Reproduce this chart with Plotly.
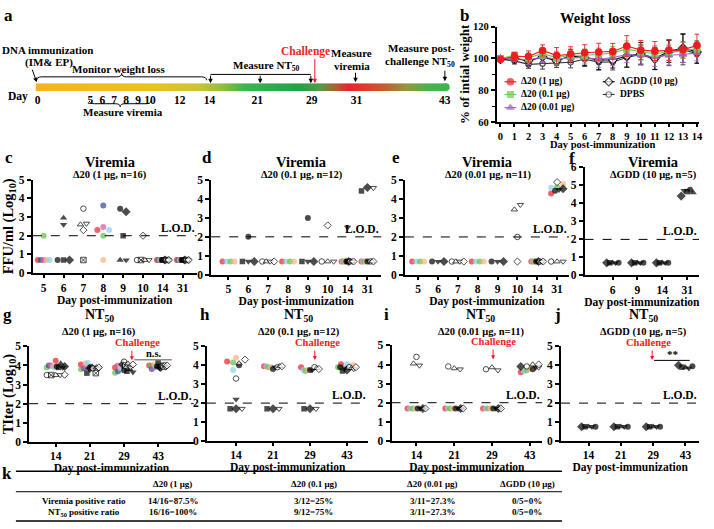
import numpy as np
import plotly.graph_objects as go

W, H = 714, 529
FONT = "Liberation Serif"
N = None

# ======================= DATA =======================
tl_days = [0, 5, 6, 7, 8, 9, 10, 12, 14, 21, 29, 31, 43]

wl_days = list(range(15))
wl_d20_1 = [99.5, 101.2, 101.2, 105.0, 101.8, 102.8, 103.6, 104.0, 104.4, 107.8, 105.2, 104.6, 105.2, 105.4, 108.2]
wl_d20_1_err = [1.0, 2.5, 3.5, 3.5, 5.0, 4.5, 5.0, 5.5, 5.0, 6.5, 6.0, 6.0, 6.5, 5.0, 7.0]
wl_d20_01 = [100.0, 102.0, 100.5, 103.0, 100.5, 102.0, 102.0, 102.5, 103.5, 106.0, 104.0, 103.0, 104.0, 105.0, 106.0]
wl_d20_01_err = [1.0, 2.0, 3.0, 3.0, 4.0, 4.0, 4.0, 4.0, 4.0, 5.0, 5.0, 5.0, 5.0, 5.0, 5.0]
wl_d20_001 = [100.0, 100.0, 99.0, 101.0, 99.5, 100.5, 100.5, 99.5, 100.5, 102.5, 102.0, 101.0, 102.0, 102.5, 103.5]
wl_d20_001_err = [1.0, 2.0, 3.0, 3.5, 4.0, 4.0, 4.0, 5.0, 5.0, 5.0, 6.0, 6.0, 6.0, 5.0, 5.0]
wl_gdd = [99.5, 100.0, 98.5, 101.0, 98.5, 101.5, 100.5, 99.0, 99.0, 101.5, 103.0, 100.0, 104.5, 106.5, 104.0]
wl_gdd_err = [1.0, 2.0, 3.0, 4.0, 3.0, 4.0, 5.0, 6.0, 5.0, 7.0, 7.0, 7.0, 7.0, 9.0, 7.0]
wl_dpbs = [99.5, 98.5, 96.3, 96.8, 97.3, 97.6, 99.5, 97.7, 97.8, 100.6, 102.5, 99.2, 103.5, 105.5, 103.0]
wl_dpbs_err = [1.0, 2.0, 2.5, 3.5, 3.0, 3.5, 4.5, 5.0, 5.0, 6.0, 6.0, 6.0, 8.0, 9.5, 6.0]

mice_16 = ["red", "green", "blue", "pink", "orange", "cyan",
           "b_circle", "b_square", "b_tup", "b_tdown", "b_diamond",
           "o_circle", "o_squarex", "o_tup", "o_tdown", "o_diamond"]
mice_12 = ["red", "cyan", "green", "orange",
           "b_circle", "b_square", "b_tdown", "b_diamond",
           "o_circle", "o_tup", "o_tdown", "o_diamond"]
mice_11 = ["red", "cyan", "green", "orange",
           "b_circle", "b_tdown", "b_diamond",
           "o_circle", "o_tup", "o_tdown", "o_diamond"]
mice_5 = ["b_diamond", "b_square", "b_tup", "b_tdown", "b_circle"]

vir_days = ["5", "6", "7", "8", "9", "10", "14", "31"]
vir_days_f = ["6", "9", "14", "31"]
vir_c = [
    [0.7, 2.0, 0.7, 0.7, 0.7, 0.7, N, N, N, N, N, N, N, N, N, N],
    [N, N, N, N, N, N, 0.7, 0.7, 2.95, 2.6, 0.7, N, N, N, N, N],
    [N, N, N, N, N, N, N, N, N, N, N, 3.45, 0.7, 2.6, 2.65, 2.3],
    [2.3, 2.0, 3.62, 2.47, 0.7, 2.3, N, N, N, N, N, N, N, N, N, N],
    [N, N, N, N, N, N, 3.45, 2.0, 0.7, 0.7, 3.28, N, N, N, N, N],
    [N, N, N, N, N, N, N, N, N, N, N, 0.7, 0.7, 0.7, 0.7, 2.0],
    [0.7, 0.7, 0.7, 0.7, 0.7, 0.7, 0.7, 0.7, 0.7, 0.7, 0.7, 0.7, 0.7, 0.7, 0.7, 0.7],
    [0.7, 0.7, 0.7, 0.7, 0.7, 0.7, 0.7, 0.7, 0.7, 0.7, 0.7, 0.7, 0.7, 0.7, 0.7, 0.7],
]
vir_d = [
    [0.7, 0.7, 0.7, 0.7, N, N, N, N, N, N, N, N],
    [N, N, N, N, 2.0, 0.7, 0.7, 0.7, N, N, N, N],
    [N, N, N, N, N, N, N, N, 0.7, 0.7, 0.7, 0.7],
    [0.7, 0.7, 0.7, 0.7, N, N, N, N, N, N, N, N],
    [N, N, N, N, 3.0, 0.7, 0.7, 0.7, N, N, N, N],
    [N, N, N, N, N, N, N, N, 0.7, 0.7, 0.7, 2.6],
    [0.7, 0.7, 0.7, 0.7, 0.7, 0.7, 2.5, 0.7, 0.7, 0.7, 0.7, 0.7],
    [0.7, 0.7, 0.7, 0.7, 0.7, 4.42, 0.7, 4.6, 0.7, 0.7, 4.58, 0.7],
]
vir_e = [
    [0.7, 0.7, 0.7, 0.7, N, N, N, N, N, N, N],
    [N, N, N, N, 0.7, 0.7, 0.7, N, N, N, N],
    [N, N, N, N, N, N, N, 0.7, 0.7, 0.7, 0.7],
    [0.7, 0.7, 0.7, 0.7, N, N, N, N, N, N, N],
    [N, N, N, N, 0.7, 0.7, 0.7, N, N, N, N],
    [N, N, N, N, N, N, N, 2.0, 3.45, 3.7, 0.7],
    [0.7, 0.7, 0.7, 0.7, 0.7, 0.7, 0.7, 0.7, 0.7, 0.7, 0.7],
    [4.3, 4.6, 4.65, 4.8, 4.45, 4.5, 4.55, 0.7, 0.7, 0.7, 4.9],
]
vir_f = [
    [0.7, 0.7, 0.7, 0.7, 0.7],
    [0.7, 0.7, 0.7, 0.7, 0.7],
    [0.7, 0.7, 0.7, 0.7, 0.7],
    [4.4, 4.65, 4.6, 4.7, 4.75],
]

nt_days = ["14", "21", "29", "43"]
nt_g = [
    [4.25, 3.9, 4.0, 4.0, 3.95, 3.9, 3.95, 3.9, 4.1, 3.9, 3.95, 3.5, 3.5, 3.5, 3.5, 3.52],
    [4.05, 3.8, 3.85, 3.95, 4.1, 4.15, 3.9, 3.6, 3.95, 3.9, 3.85, 3.85, 3.6, 3.9, 3.85, 3.9],
    [3.9, 3.62, 3.7, 4.0, 3.9, 3.85, 3.75, 3.7, 3.8, 3.65, 4.05, 4.2, 4.0, 4.1, 3.9, 4.05],
    [4.0, 4.0, 3.82, 3.9, 4.05, 3.95, 3.95, 4.15, 3.95, 3.85, 3.9, 4.0, 3.95, 4.05, 3.9, 4.0],
]
nt_h = [
    [4.2, 3.75, 4.15, 4.4, 4.0, 1.7, 2.2, 1.7, 3.3, 4.1, 1.7, 4.3],
    [3.95, 3.95, 3.9, 3.9, 3.8, 1.7, 3.9, 1.7, 3.9, 3.95, 1.7, 3.95],
    [3.9, 3.75, 3.7, 3.75, 3.75, 1.7, 3.75, 1.7, 3.9, 3.85, 1.7, 3.8],
    [4.05, 4.05, 3.9, 4.0, 3.9, 3.7, 3.85, 3.75, 3.9, 3.85, 3.8, 3.9],
]
nt_i = [
    [1.7, 1.7, 1.7, 1.7, 1.7, 1.7, 1.7, 4.4, 4.05, 3.95, 1.7],
    [1.7, 1.7, 1.7, 1.7, 1.7, 1.7, 1.7, 3.9, 3.8, 3.75, 1.7],
    [1.7, 1.7, 1.7, 1.7, 1.7, 1.7, 1.7, 3.75, 3.85, 3.7, 1.7],
    [3.6, 3.65, 3.7, 3.8, 3.75, 3.85, 3.9, 3.9, 4.0, 3.85, 4.0],
]
nt_j = [
    [0.75, 0.75, 0.75, 0.75, 0.75],
    [0.75, 0.75, 0.75, 0.75, 0.75],
    [0.75, 0.75, 0.75, 0.75, 0.75],
    [4.0, 3.9, 3.88, 3.85, 3.95],
]
LOD = 2.0

tbl_groups = ["Δ20 (1 μg)", "Δ20 (0.1 μg)", "Δ20 (0.01 μg)", "ΔGDD (10 μg)"]
tbl_rows = ["Viremia positive ratio", "NT<sub>50</sub> positive ratio"]
tbl_viremia = ["14/16=87.5%", "3/12=25%", "3/11=27.3%", "0/5=0%"]
tbl_nt50 = ["16/16=100%", "9/12=75%", "3/11=27.3%", "0/5=0%"]

# ======================= STYLE / LAYOUT =======================
def X(px): return px / W
def Y(py): return 1 - py / H
def F(size, color="black"): return dict(family=FONT, size=size, color=color, weight="bold")

RED = "#EE1D23"; GREEN = "#62BE47"; BLUE = "#2A4B9B"; PINK = "#D457A6"
ORANGE = "#F9B47E"; CYAN = "#8AD2EA"
STYLE = {
    "red": ("circle", RED, RED, 6, 0), "green": ("circle", GREEN, GREEN, 6, 0),
    "blue": ("circle", BLUE, BLUE, 6, 0), "pink": ("circle", PINK, PINK, 6, 0),
    "orange": ("circle", ORANGE, ORANGE, 6, 0), "cyan": ("circle", CYAN, CYAN, 6, 0),
    "b_circle": ("circle", "black", "black", 6, 0), "b_square": ("square", "black", "black", 5.5, 0),
    "b_tup": ("triangle-up", "black", "black", 6.5, 0), "b_tdown": ("triangle-down", "black", "black", 6.5, 0),
    "b_diamond": ("diamond", "black", "black", 7, 0),
    "o_circle": ("circle", "white", "black", 5.5, 1), "o_squarex": ("square-x", "white", "black", 5.5, 1),
    "o_tup": ("triangle-up", "white", "black", 5.5, 1), "o_tdown": ("triangle-down", "white", "black", 5.5, 1),
    "o_diamond": ("diamond", "white", "black", 5.5, 1),
}

fig = go.Figure()
layout = {}
annotations = []
shapes = []


def ann(px, py, text, size, color="black", xanchor="center", yanchor="middle"):
    annotations.append(dict(x=X(px), y=Y(py), xref="paper", yref="paper", text=text, showarrow=False,
                            font=F(size, color), xanchor=xanchor, yanchor=yanchor))


def arrow(px, py_tail, py_head, color="black", dx_tail=0):
    annotations.append(dict(x=X(px), y=Y(py_head), xref="paper", yref="paper", ax=dx_tail,
                            ay=-(py_head - py_tail), text="", showarrow=True, arrowhead=2,
                            arrowsize=0.9, arrowwidth=1, arrowcolor=color, standoff=0, startstandoff=0))


def brace(x1, x2, y_end, depth, up=True):
    s = -1 if up else 1
    yb, yt, xm = y_end + s * depth / 2, y_end + s * depth, (x1 + x2) / 2
    q = min(5, (x2 - x1) / 6)
    p = (f"M {X(x1)},{Y(y_end)} Q {X(x1)},{Y(yb)} {X(x1+q)},{Y(yb)} L {X(xm-q)},{Y(yb)} "
         f"Q {X(xm)},{Y(yb)} {X(xm)},{Y(yt)} Q {X(xm)},{Y(yb)} {X(xm+q)},{Y(yb)} "
         f"L {X(x2-q)},{Y(yb)} Q {X(x2)},{Y(yb)} {X(x2)},{Y(y_end)}")
    shapes.append(dict(type="path", path=p, xref="paper", yref="paper", line=dict(color="black", width=1)))


# ---------------- (a) timeline ----------------
TL_BREAK_DAYS = [0, 5, 10, 14, 29, 31, 43]
TL_BREAK_PX = [37, 90, 150, 210, 313, 358, 447]
bar_x = np.linspace(35, 448, 300)
grad = [(35, "#F5B41C"), (150, "#EEC01F"), (200, "#C9C436"), (225, "#8BBE3F"), (245, "#3DB54A"),
        (300, "#21A24A"), (322, "#4F9C44"), (337, "#B0602E"), (350, "#E3262B"), (362, "#E2342A"),
        (385, "#C65A2E"), (410, "#8E9A3C"), (430, "#4DB14A"), (448, "#3AB54A")]
cs = [[(p - 35) / (448 - 35), c] for p, c in grad]
fig.add_trace(go.Heatmap(x=bar_x, y=[0, 1], z=[bar_x, bar_x], colorscale=cs, zmin=35, zmax=448,
                         showscale=False, xaxis="x10", yaxis="y10", hoverinfo="skip"))
layout["xaxis10"] = dict(domain=[X(35), X(452)], range=[35, 452], anchor="y10",
                         tickvals=list(np.interp(tl_days, TL_BREAK_DAYS, TL_BREAK_PX)),
                         ticktext=[str(d) for d in tl_days], ticks="", showline=False, showgrid=False,
                         zeroline=False, tickfont=F(11.5))
layout["yaxis10"] = dict(domain=[Y(87), Y(79)], range=[-0.5, 1.5], visible=False)
shapes.append(dict(type="circle", xref="x10", yref="paper", x0=444, x1=452, y0=Y(87), y1=Y(79),
                   fillcolor="#3AB54A", line=dict(width=0)))
ann(8, 10, "a", 17)
ann(17, 93, "Day", 11.5)
ann(47, 45, "DNA immunization", 11)
ann(48, 58, "(IM& EP)", 11)
annotations.append(dict(x=X(36), y=Y(78), xref="paper", yref="paper", ax=-5, ay=-14, text="",
                        showarrow=True, arrowhead=2, arrowsize=0.9, arrowwidth=1, arrowcolor="black"))
ann(118, 64, "Monitor weight loss", 11)
brace(36, 207, 76, 7, up=True)
brace(89, 151, 97, 6, up=False)
ann(123, 108, "Measure viremia", 11)
ann(267, 61, "Measure NT<sub>50</sub>", 11)
shapes.append(dict(type="line", xref="paper", yref="paper", x0=X(211), x1=X(312), y0=Y(70), y1=Y(70),
                   line=dict(color="black", width=1)))
for xp in (211, 261, 312):
    arrow(xp, 70, 79)
ann(307, 47, "Challenge", 11.5, RED)
arrow(316, 53, 79, RED)
ann(353, 48, "Measure", 11)
ann(353, 61, "viremia", 11)
arrow(357, 67, 78)
ann(423, 43, "Measure post-", 11)
ann(422, 57, "challenge NT<sub>50</sub>", 11)
arrow(447, 65, 77)

# ---------------- (b) weight loss ----------------
b_series = [
    ("Δ20 (1 μg)", wl_d20_1, wl_d20_1_err, RED, "circle", RED, 6.5),
    ("Δ20 (0.1 μg)", wl_d20_01, wl_d20_01_err, "#74C557", "square", "#74C557", 6),
    ("Δ20 (0.01 μg)", wl_d20_001, wl_d20_001_err, "#A066C2", "triangle-up", "#A066C2", 6.5),
    ("ΔGDD (10 μg)", wl_gdd, wl_gdd_err, "black", "diamond", "white", 6.5),
    ("DPBS", wl_dpbs, wl_dpbs_err, "#333333", "circle", "white", 5.5),
]
for name, ys, er, col, sym, fill, sz in reversed(b_series):
    fig.add_trace(go.Scatter(
        x=wl_days, y=ys, name=name, mode="lines+markers", xaxis="x", yaxis="y", showlegend=False,
        line=dict(color=col, width=1.1),
        marker=dict(symbol=sym, color=fill, size=sz, line=dict(color=col, width=1.1)),
        error_y=dict(type="data", array=er, color=col, thickness=0.9, width=2.5),
        cliponaxis=False))
layout["xaxis"] = dict(domain=[X(499), X(703)], range=[-0.28, 14.15], anchor="y", tickvals=wl_days,
                       showline=True, linecolor="black", linewidth=1.5, ticks="outside", ticklen=3,
                       tickwidth=1.5, tickcolor="black", tickfont=F(10.5), showgrid=False, zeroline=False)
layout["yaxis"] = dict(domain=[Y(119), Y(21)], range=[60, 120], anchor="x", tick0=60, dtick=20,
                       showline=True, linecolor="black", linewidth=1.5, ticks="outside", ticklen=4,
                       tickwidth=1.5, tickcolor="black", tickfont=F(10.5), showgrid=False, zeroline=False,
                       minor=dict(dtick=10, ticks="outside", ticklen=2.5, tickwidth=1.2, tickcolor="black"),
                       title=dict(text="% of intial weight", font=F(13), standoff=0))
ann(606, 142, "Day post-immunization", 10.5)
ann(467, 10, "b", 17)
ann(599, 12, "Weight loss", 14.5)

# legend drawn on a pixel-unit overlay axis (two columns, as in the original)
layout["xaxis11"] = dict(domain=[0, 1], range=[0, W], anchor="y11", visible=False, fixedrange=True)
layout["yaxis11"] = dict(domain=[0, 1], range=[H, 0], anchor="x11", visible=False, fixedrange=True)
LEG_POS = [(513, 77.5), (513, 90.5), (513, 104), (612, 77.5), (612, 90.5)]
for (name, ys, er, col, sym, fill, sz), (lx, ly) in zip(b_series, LEG_POS):
    fig.add_trace(go.Scatter(x=[lx - 6, lx, lx + 6], y=[ly, ly, ly], mode="lines+markers", xaxis="x11",
                             yaxis="y11", showlegend=False, hoverinfo="skip", cliponaxis=False,
                             line=dict(color=col, width=1.1),
                             marker=dict(symbol=sym, color=fill, size=[0, sz, 0],
                                         line=dict(color=col, width=[0, 1.1, 0]))))
    annotations.append(dict(x=X(lx + 9), y=Y(ly), xref="paper", yref="paper", text=name, showarrow=False,
                            xanchor="left", yanchor="middle", font=F(9.5)))


# ---------------- scatter panels ----------------
def swarm_offsets(vals, ppx, ppy, spread_px, thresh_px=5.0):
    order = sorted(range(len(vals)), key=lambda i: vals[i])
    groups = []
    for i in order:
        if groups and (vals[i] - vals[groups[-1][0]]) * ppy < thresh_px:
            groups[-1].append(i)
        else:
            groups.append([i])
    offs = [0.0] * len(vals)
    for g in groups:
        g = sorted(g)
        n = len(g)
        if n == 1:
            continue
        step = min(6.0, spread_px / (n - 1))
        for k, i in enumerate(g):
            offs[i] = (k - (n - 1) / 2) * step / ppx
    return offs


def dot_panel(n, cats, mice, vals, xdom, ydom, xr, yr, spread, ytitle=None):
    ppx = (xdom[1] - xdom[0]) / (xr[1] - xr[0])
    ppy = (ydom[1] - ydom[0]) / (yr[1] - yr[0])
    xs, ys, syms, cols, lcols, sizes, lws = [], [], [], [], [], [], []
    for ci, row in enumerate(vals):
        idx = [m for m, v in enumerate(row) if v is not None]
        v = [row[m] for m in idx]
        offs = swarm_offsets(v, ppx, ppy, spread)
        for m, val, o in zip(idx, v, offs):
            sym, fill, lc, sz, lw = STYLE[mice[m]]
            xs.append(ci + o); ys.append(val); syms.append(sym); cols.append(fill)
            lcols.append(lc); sizes.append(sz); lws.append(lw)
    fig.add_trace(go.Scatter(x=xs, y=ys, mode="markers", xaxis=f"x{n}", yaxis=f"y{n}", showlegend=False,
                             cliponaxis=False, hoverinfo="skip",
                             marker=dict(symbol=syms, color=cols, size=sizes,
                                         line=dict(color=lcols, width=lws))))
    layout[f"xaxis{n}"] = dict(domain=[X(xdom[0]), X(xdom[1])], range=xr, anchor=f"y{n}",
                               tickvals=list(range(len(cats))), ticktext=cats, showline=True,
                               linecolor="black", linewidth=1.5, ticks="outside", ticklen=3, tickwidth=1.5,
                               tickcolor="black", tickfont=F(11.5), showgrid=False, zeroline=False,
                               title=dict(text="Day post-immunization", font=F(11.5), standoff=1))
    yax = dict(domain=[Y(ydom[1]), Y(ydom[0])], range=yr, anchor=f"x{n}", dtick=1, tick0=0,
               showline=True, linecolor="black", linewidth=1.8, ticks="outside", ticklen=4, tickwidth=1.5,
               tickcolor="black", tickfont=F(11.5), showgrid=False, zeroline=False)
    if ytitle:
        yax["title"] = dict(text=ytitle, font=F(14.5), standoff=3)
    layout[f"yaxis{n}"] = yax
    shapes.append(dict(type="line", xref=f"x{n} domain", yref=f"y{n}", x0=0, x1=1, y0=LOD, y1=LOD,
                       line=dict(color="black", width=1, dash="dash")))
    annotations.append(dict(xref=f"x{n} domain", yref=f"y{n}", x=1, y=LOD, xanchor="right",
                            yanchor="bottom", text="L.O.D.", showarrow=False, font=F(11.5)))


dot_panel(2, vir_days, mice_16, vir_c, (32, 197), (177.7, 273.3), [-0.55, 7.7], [0, 5], 12,
          ytitle="FFU/ml (Log<sub>10</sub>)")
dot_panel(3, vir_days, mice_12, vir_d, (211.7, 383), (178, 275), [-0.87, 7.7], [0, 5], 12)
dot_panel(4, vir_days, mice_11, vir_e, (406.7, 572), (178.3, 275), [-0.67, 7.6], [0, 5], 12)
dot_panel(5, vir_days_f, mice_5, vir_f, (587.7, 703), (165, 275.7), [-1.13, 3.48], [0, 6], 12)
dot_panel(6, nt_days, mice_16, nt_g, (28.3, 194), (348.3, 446), [-0.78, 4.04], [0, 5], 18,
          ytitle="TIter (Log<sub>10</sub>)")
dot_panel(7, nt_days, mice_12, nt_h, (207.3, 370), (348.3, 445), [-0.79, 3.58], [0, 5], 18)
dot_panel(8, nt_days, mice_11, nt_i, (393.3, 545), (347.3, 445), [-0.66, 3.33], [0, 5], 18)
dot_panel(9, nt_days, mice_5, nt_j, (564, 703.3), (348.3, 445), [-0.85, 3.43], [0, 5], 14)

for letter, lx, ly, tx, sub in [("c", 8, 155, 110, "Δ20 (1 μg, n=16)"), ("d", 207, 155, 303, "Δ20 (0.1 μg, n=12)"),
                                ("e", 398, 155, 490, "Δ20 (0.01 μg, n=11)"), ("f", 575, 156, 657, "ΔGDD (10 μg, n=5)")]:
    ann(lx, ly, letter, 17)
    ann(tx, 160, "Viremia", 14.5)
    ann(tx, 173, sub, 10.5)
for letter, lx, tx, sub in [("g", 7, 99, "Δ20 (1 μg, n=16)"), ("h", 205, 300, "Δ20 (0.1 μg, n=12)"),
                            ("i", 388, 483, "Δ20 (0.01 μg, n=11)"), ("j", 560, 647, "ΔGDD (10 μg, n=5)")]:
    ann(lx, 316, letter, 17)
    ann(tx, 317, "NT<sub>50</sub>", 14)
    ann(tx, 334, sub, 10.5)

for n, ax_x, tx_x in [(6, 2.23, 2.4), (7, 2.13, 2.2), (8, 2.03, 2.05), (9, 1.97, 1.85)]:
    annotations.append(dict(xref=f"x{n}", yref=f"y{n}", x=tx_x, y=4.99, yshift=4, text="Challenge",
                            showarrow=False, font=F(10.5, RED)))
    annotations.append(dict(xref=f"x{n}", yref=f"y{n}", x=ax_x, y=4.28, ax=0, ay=-11, text="",
                            showarrow=True, arrowhead=2, arrowsize=0.8, arrowwidth=1, arrowcolor=RED))
shapes.append(dict(type="line", xref="x6", yref="y6", x0=2.3, x1=3.4, y0=4.3, y1=4.3,
                   line=dict(color="#8C8C8C", width=1.5)))
annotations.append(dict(xref="x6", yref="y6", x=2.88, y=4.3, yanchor="bottom", yshift=-1, text="n.s.",
                        showarrow=False, font=F(10.5)))
shapes.append(dict(type="line", xref="x9", yref="y9", x0=2.03, x1=3.13, y0=4.26, y1=4.26,
                   line=dict(color="black", width=1)))
annotations.append(dict(xref="x9", yref="y9", x=2.6, y=4.2, yanchor="bottom", text="**",
                        showarrow=False, font=F(11)))

# ---------------- (k) table ----------------
ann(6, 478, "k", 17)
for y0, wdt in [(476, 1.5), (497, 1.0), (527, 1.5)]:
    shapes.append(dict(type="line", xref="paper", yref="paper", x0=X(15), x1=X(565), y0=Y(y0), y1=Y(y0),
                       line=dict(color="black", width=wdt)))
col_px = [173, 315, 435, 530]
for cx, g, v, t in zip(col_px, tbl_groups, tbl_viremia, tbl_nt50):
    ann(cx, 489, g, 9)
    ann(cx, 506, v, 9)
    ann(cx, 518, t, 9)
ann(84, 506, tbl_rows[0], 9)
ann(84, 518, tbl_rows[1], 9)

layout.update(dict(width=W, height=H, margin=dict(l=0, r=0, t=0, b=0), paper_bgcolor="white",
                   plot_bgcolor="rgba(0,0,0,0)", font=dict(family=FONT, weight="bold", color="black"),
                   showlegend=False, annotations=annotations, shapes=shapes))
fig.update_layout(**layout)
fig.write_html("out.html", config={"displayModeBar": False},
               post_script="document.body.style.margin='0px';")
